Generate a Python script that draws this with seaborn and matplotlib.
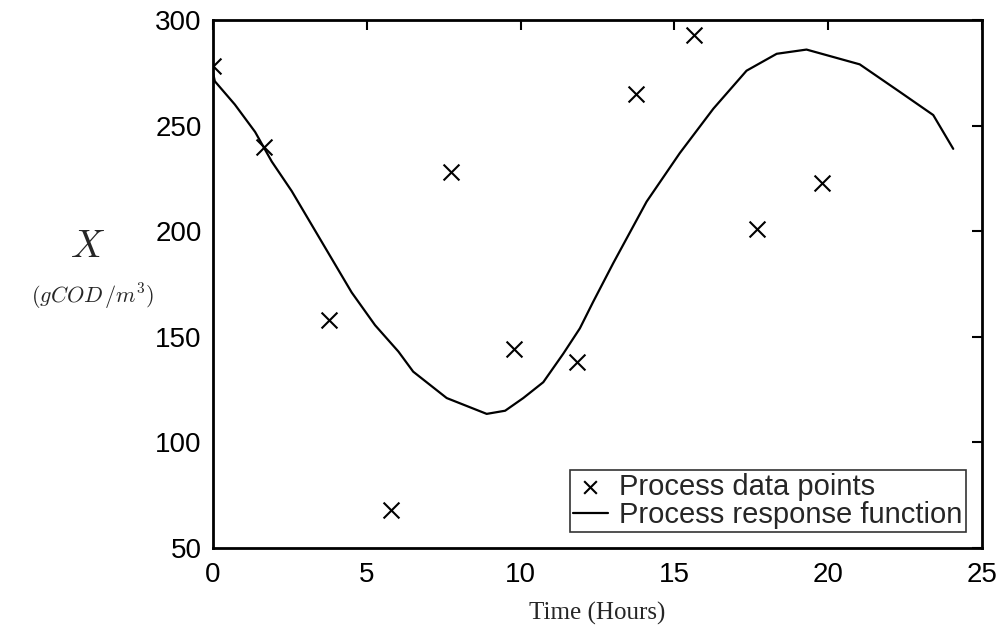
import numpy as np
import pandas as pd
import matplotlib
matplotlib.use("Agg")
import matplotlib.pyplot as plt
import seaborn as sns

# Process data points
data_hours = [0.0, 1.66, 3.77, 5.79, 7.74, 9.79, 11.83, 13.75, 15.64, 17.69, 19.80]
data_values = [278, 240, 158, 68, 228, 144, 138, 265, 293, 201, 223]

# Process response function
curve_hours = [0.0, 0.06, 0.71, 1.37, 1.91, 2.56, 3.21, 3.86, 4.51, 5.27, 6.03, 6.51,
               7.6, 8.9, 9.5, 10.09, 10.74, 11.39, 11.93, 12.36, 13.02, 14.1, 15.18,
               16.27, 17.35, 18.33, 19.3, 21.03, 22.33, 23.42, 24.07]
curve_values = [275, 271, 260, 247, 233, 219, 203, 187, 171, 155.5, 143, 133.5,
                121, 113.5, 115, 121, 128.5, 142, 154, 166.5, 185, 214, 237,
                258, 276, 284, 286, 279, 266, 255, 239]

x_ticks = [0, 5, 10, 15, 20, 25]
y_ticks = [50, 100, 150, 200, 250, 300]

sns.set_style("white")
plt.rcParams['font.family'] = ['Liberation Sans', 'DejaVu Sans']
plt.rcParams['mathtext.fontset'] = 'cm'

fig = plt.figure(figsize=(10.07, 6.25), dpi=100)
ax = fig.add_axes([0.2115, 0.1232, 0.975 - 0.2115, 0.968 - 0.1232])

df_pts = pd.DataFrame({"Time": data_hours, "X": data_values})
df_curve = pd.DataFrame({"Time": curve_hours, "X": curve_values})

sns.scatterplot(data=df_pts, x="Time", y="X", ax=ax, marker="x", s=130,
                color="black", linewidth=1.5, label="Process data points", zorder=3)
sns.lineplot(data=df_curve, x="Time", y="X", ax=ax, color="black", linewidth=1.6,
             label="Process response function", sort=False, estimator=None)

ax.set_xlim(0, 25)
ax.set_ylim(50, 300)
ax.set_xticks(x_ticks)
ax.set_yticks(y_ticks)
ax.tick_params(direction="in", length=7, width=1.5, top=True, right=True,
               labelsize=20, colors="black")
ax.tick_params(axis="x", pad=10)
ax.tick_params(axis="y", pad=8)
ax.set_xticklabels([str(t) for t in x_ticks])
for s in ax.spines.values():
    s.set_color("black")
    s.set_linewidth(2)

ax.set_xlabel("Time (Hours)", fontsize=18, family=['Liberation Serif'], labelpad=10)
ax.set_ylabel("")

fig.text(0.087, 1 - 247 / 625, r"$X$", fontsize=28, ha="center", va="center")
fig.text(0.092, 1 - 297 / 625, r"$(gCOD\,/m^3)$", fontsize=16, ha="center", va="center")

leg = ax.legend(loc="lower right", frameon=True, fancybox=False, fontsize=21,
                handlelength=1.2, handletextpad=0.4, labelspacing=0.0,
                borderpad=0.1, borderaxespad=0.55, markerscale=0.8)
leg.get_frame().set_edgecolor("black")
leg.get_frame().set_linewidth(1.2)

fig.savefig("out.png", dpi=100)
